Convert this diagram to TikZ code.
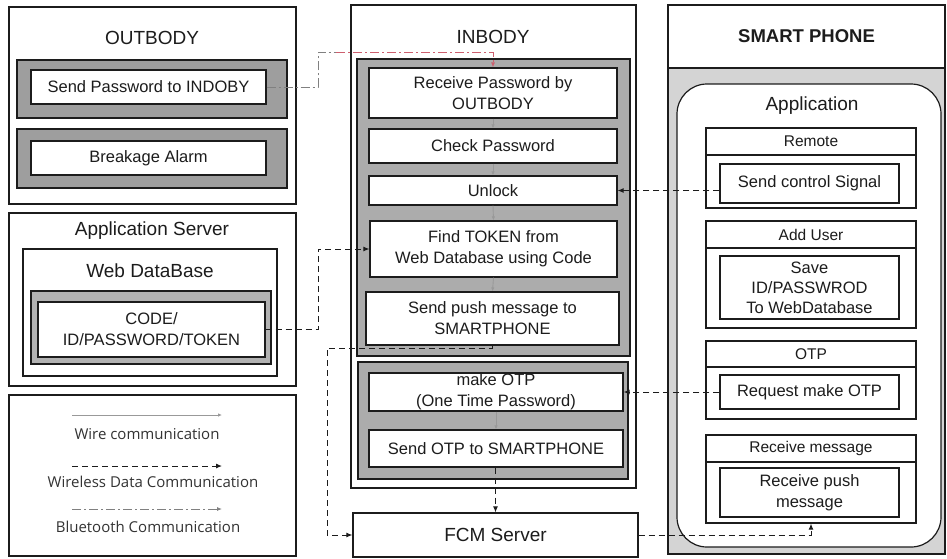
\documentclass[tikz,border=0pt]{standalone}
\usepackage{fontspec}
\setmainfont{Liberation Sans}
\newfontfamily\legfont{Open Sans}
\usetikzlibrary{arrows.meta}
\definecolor{cBandA}{RGB}{158,158,158}
\definecolor{cBandB}{RGB}{172,172,172}
\definecolor{cBandC}{RGB}{178,178,178}
\definecolor{cPhone}{RGB}{212,212,212}
\definecolor{ink}{RGB}{28,28,28}
\definecolor{cRed}{RGB}{205,95,110}
\newcommand\fs[2]{\fontsize{#1}{#2}\selectfont}
% \rbox{x1}{y1}{x2}{y2}{name}{style}{text}
\newcommand\rbox[7]{\node[#6,minimum width={#3-#1},minimum height={#4-#2}] (#5) at ({(#1+#3)/2},{(#2+#4)/2}) {#7};}

\begin{document}
\begin{tikzpicture}[x=1pt,y=-1pt,
  every node/.style={text=ink},
  ln/.style={draw=ink,line width=1.2pt},
  frame/.style={ln,inner sep=0pt},
  box/.style={ln,fill=white,inner sep=0pt,align=center,font=\fs{16.5}{21}},
  hdrbox/.style={ln,fill=white,inner sep=0pt,align=center,font=\fs{15.5}{19}},
  bandone/.style={ln,fill=cBandA,inner sep=0pt},
  bandtwo/.style={ln,fill=cBandB,inner sep=0pt},
  bandthree/.style={ln,fill=cBandC,inner sep=0pt},
  title/.style={font=\fs{19}{23},inner sep=0pt},
  legtext/.style={font=\legfont\fs{15}{18},inner sep=0pt,text=ink!90},
  wire/.style={draw=gray!80,line width=0.9pt,-{Latex[length=4pt,width=3.5pt]}},
  wl/.style={draw=ink,line width=1pt,dash pattern=on 6pt off 4pt,-{Latex[length=6pt,width=5pt]}},
  bt/.style={draw=gray,line width=0.9pt,dash pattern=on 9pt off 3pt on 2pt off 3pt},
  btarrow/.style={bt,-{Latex[length=5pt,width=4pt]}},
]
\useasboundingbox (0,0) rectangle (947,558);
\fill[white] (0,0) rectangle (947,558);

% ---------------- OUTBODY ----------------
\rbox{9}{7}{296}{204}{outbody}{frame}{}
\node[title] (outbodyt) at (152,38) {OUTBODY};
\rbox{17}{60}{287}{118}{obbandA}{bandone}{}
\rbox{31}{70}{266}{104}{obsend}{box}{Send Password to INDOBY}
\rbox{17}{129}{287}{188}{obbandB}{bandone}{}
\rbox{31}{141}{266}{175}{obalarm}{box}{Breakage Alarm}

% ---------------- Application Server ----------------
\rbox{9}{213}{296}{386}{appserver}{frame}{}
\node[title] (appservert) at (152,231) {Application Server};
\rbox{23}{249}{277}{376}{webdb}{frame}{}
\node[title] (webdbt) at (150,271) {Web DataBase};
\rbox{31}{291}{271}{364}{dbband}{bandthree}{}
\rbox{38}{302}{265}{357}{dbinner}{box}{CODE/\\ID/PASSWORD/TOKEN}

% ---------------- Legend ----------------
\rbox{9}{395}{296}{556}{legend}{frame}{}
\coordinate (lwA) at (72,415);  \coordinate (lwB) at (222,415);
\coordinate (llA) at (72,466);  \coordinate (llB) at (222,466);
\coordinate (lbA) at (72,509);  \coordinate (lbB) at (222,509);
\draw[wire] (lwA) -- (lwB);
\draw[wl] (llA) -- (llB);
\draw[btarrow] (lbA) -- (lbB);
\node[legtext] (lwt) at (147,434) {Wire communication};
\node[legtext] (llt) at (153,482) {Wireless Data Communication};
\node[legtext] (lbt) at (148,527) {Bluetooth Communication};

% ---------------- INBODY ----------------
\rbox{351}{5}{636}{488}{inbody}{frame}{}
\node[title] (inbodyt) at (493,37) {INBODY};
\rbox{357}{59}{630}{356}{ibbandA}{bandtwo}{}
\rbox{369}{68}{617}{118}{recv}{box}{Receive Password by\\OUTBODY}
\rbox{369}{129}{617}{163}{check}{box}{Check Password}
\rbox{369}{176}{617}{205}{unlock}{box}{Unlock}
\rbox{370}{221}{617}{277}{find}{box}{Find TOKEN from\\Web Database using Code}
\rbox{366}{292}{619}{345}{push}{box}{Send push message to\\SMARTPHONE}
\rbox{358}{362}{628}{479}{ibbandB}{bandtwo}{}
\rbox{369}{373}{623}{411}{mkotp}{box}{make OTP\\(One Time Password)}
\rbox{369}{430}{623}{467}{sendotp}{box}{Send OTP to SMARTPHONE}

\draw[wire] (recv.south) -- (check.north);
\draw[wire] (check.south) -- (unlock.north);
\draw[wire] (unlock.south) -- (find.north);
\draw[wire] (find.south) -- (push.north);
\draw[wire] (mkotp.south) -- (sendotp.north);

% ---------------- FCM Server ----------------
\rbox{353}{513}{638}{557}{fcm}{frame,fill=white,font=\fs{19}{23}}{FCM Server}

% ---------------- SMART PHONE ----------------
\fill[cPhone] (668,68) rectangle (945,554);
\rbox{668}{5}{945}{554}{phone}{frame}{}
\rbox{668}{5}{945}{68}{phoneh}{frame,fill=white,font=\bfseries\fs{18.5}{22}}{SMART PHONE}
\rbox{677}{84}{941}{547}{app}{frame,fill=white,rounded corners=30pt}{}
\node[title] (appt) at (812,106) {Application};

\rbox{706}{128}{916}{208}{remote}{frame,fill=white}{}
\rbox{706}{128}{916}{155}{remoteh}{hdrbox}{Remote}
\rbox{720}{164}{899}{203}{sendctl}{box}{Send control Signal}

\rbox{706}{221}{916}{328}{adduser}{frame,fill=white}{}
\rbox{706}{221}{916}{248}{adduserh}{hdrbox}{Add User}
\rbox{720}{256}{899}{319}{saveid}{box,font=\fs{16.5}{20}}{Save\\ID/PASSWROD\\To WebDatabase}

\rbox{706}{341}{916}{419}{otp}{frame,fill=white}{}
\rbox{706}{341}{916}{367}{otph}{hdrbox}{OTP}
\rbox{720}{375}{899}{409}{reqotp}{box}{Request make OTP}

\rbox{706}{435}{916}{523}{recvmsg}{frame,fill=white}{}
\rbox{706}{435}{916}{462}{recvmsgh}{hdrbox}{Receive message}
\rbox{720}{468}{899}{517}{recvpush}{box}{Receive push\\message}

% ---------------- connectors ----------------
% Bluetooth: OUTBODY -> INBODY
\coordinate (btA) at (318,52);
\coordinate (btB) at (336,52);
\draw[bt] (obsend.east) -| (btA) -- (btB);
\draw[bt,draw=cRed,-{Latex[length=5pt,width=4pt]}] (btB) -| (recv.north);

% Web DB -> Find TOKEN
\coordinate (dbA) at (318,249);
\draw[wl] (dbinner.east) -| (dbA) -- (find.west);

% Send push -> FCM
\coordinate (pA) at (492.5,348);
\coordinate (pB) at (327,535);
\draw[wl] (push.south) -- (pA) -| (pB) -- (fcm.west);

% Send control signal -> Unlock
\draw[wl] (unlock.east -| sendctl.west) -- (unlock.east);

% Request make OTP -> make OTP
\draw[wl] (mkotp.east -| reqotp.west) -- (mkotp.east);

% Send OTP -> FCM
\draw[wl] (sendotp.south -| fcm.north) -- (fcm.north);

% FCM -> Receive message
\draw[wl] (fcm.east) -| (recvmsg.south);
\end{tikzpicture}
\end{document}
